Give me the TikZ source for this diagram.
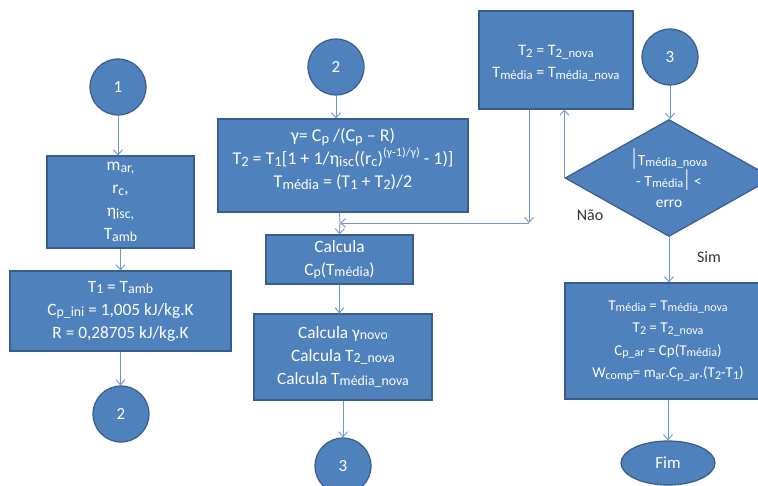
\documentclass[tikz,border=0pt]{standalone}
\usepackage{fontspec}
\usepackage{graphicx}
\setmainfont{Carlito}
\usetikzlibrary{shapes.geometric,arrows.meta}
\definecolor{boxfill}{HTML}{4F81BD}
\definecolor{boxline}{HTML}{385D8A}
\definecolor{linkblue}{HTML}{7096CC}
\definecolor{labelgray}{HTML}{333333}
\newcommand{\lo}[1]{\raisebox{-0.1em}{\scalebox{0.8}{#1}}}
\newcommand{\hi}[1]{\raisebox{0.45em}{\scalebox{0.68}{#1}}}
\tikzset{
  box/.style={draw=boxline, fill=boxfill, line width=1.2pt, text=white,
    align=center, inner sep=2pt, font=\fontsize{17.3}{23}\selectfont},
  txt/.style={text=white, align=center, inner sep=0pt, font=\fontsize{17.3}{23}\selectfont},
  circ/.style={circle, draw=boxline, fill=boxfill, line width=1.2pt, text=white,
    minimum size=56pt, inner sep=0pt, font=\fontsize{17}{20}\selectfont},
  dec/.style={diamond, draw=boxline, fill=boxfill, line width=1.2pt, text=white,
    align=center, inner sep=0pt, aspect=1.78, minimum width=208pt, minimum height=117pt,
    font=\fontsize{15.5}{21}\selectfont},
  term/.style={ellipse, draw=boxline, fill=boxfill, line width=1.2pt, text=white,
    minimum width=94pt, minimum height=44pt, inner sep=0pt, font=\fontsize{17}{20}\selectfont},
  arrowline/.style={draw=linkblue, line width=0.9pt, -{Straight Barb[length=5pt,width=9pt]}},
  plainline/.style={draw=linkblue, line width=0.9pt},
  lbl/.style={text=labelgray, font=\fontsize{16}{18}\selectfont}
}
\begin{document}
\begin{tikzpicture}[x=1pt,y=-1pt]
\useasboundingbox (0,0) rectangle (758,486);
\clip (0,0) rectangle (758,486);
\fill[white] (0,0) rectangle (758,486);

% left column
\node[circ] (c1) at (118,87) {1};
\node[box, minimum width=147pt, minimum height=92pt] (in1) at (120.5,202)
  {m\lo{ar,}\\ r\lo{c},\\ η\lo{isc,}\\ T\lo{amb}};
\node[box, minimum width=221pt, minimum height=80pt] (init) at (120.5,311)
  {T\lo{1} = T\lo{amb}\\ C\lo{p\_ini} = 1,005 kJ/kg.K\\ R = 0,28705 kJ/kg.K};
\node[circ] (c2a) at (121,414) {2};

% middle column
\node[circ] (c2b) at (336,67) {2};
\node[box, minimum width=250pt, minimum height=93pt] (eq) at (343,165.5) {};
\node[txt, font=\fontsize{18}{23}\selectfont] (eqtext) at ([yshift=6pt]eq.center)
  {γ= C\lo{p} /(C\lo{p} – R)\\
   T\lo{2} = T\lo{1}[1 + 1/η\lo{isc}((r\lo{c})\hi{(γ-1)/γ)} - 1)]\\
   T\lo{média} = (T\lo{1} + T\lo{2})/2};
\node[box, minimum width=147pt, minimum height=49pt] (cp) at (339.5,259.5)
  {Calcula\\ C\lo{p}(T\lo{média})};
\node[box, minimum width=178pt, minimum height=86pt] (calc) at (343,357)
  {Calcula γ\lo{novo}\\ Calcula T\lo{2\_nova}\\ Calcula T\lo{média\_nova}};
\node[circ] (c3a) at (343,466) {3};

% right part
\node[box, minimum width=154pt, minimum height=98pt, font=\fontsize{16}{22}\selectfont] (upd) at (556,60) {};
\node[txt, font=\fontsize{16}{22}\selectfont] (updtext) at ([yshift=-3pt]upd.center)
  {T\lo{2} = T\lo{2\_nova}\\ T\lo{média} = T\lo{média\_nova}};
\node[circ] (c3b) at (670,57) {3};
\node[dec] (dia) at (669,178)
  {\scalebox{1}[1.5]{|}T\lo{média\_nova}\\ - T\lo{média}\scalebox{1}[1.5]{|} <\\ erro};
\node[box, minimum width=206pt, minimum height=116pt, font=\fontsize{15}{22.5}\selectfont] (fin) at (668,341)
  {T\lo{média} = T\lo{média\_nova}\\ T\lo{2} = T\lo{2\_nova}\\
   C\lo{p\_ar} = Cp(T\lo{média})\\ W\lo{comp}= m\lo{ar}.C\lo{p\_ar}.(T\lo{2}-T\lo{1})};
\node[term] (fim) at (668,463) {Fim};

\node[lbl] (nao) at (590,215) {Não};
\node[lbl] (sim) at (709,257) {Sim};

\coordinate (turn) at (529,223);
\coordinate (merge) at (340,223);

% connectors
\draw[arrowline] (c1.south) -- (c1.south |- in1.north);
\draw[arrowline] (in1.south) -- (in1.south |- init.north);
\draw[arrowline] (init.south) -- (init.south |- c2a.north);
\draw[arrowline] (c2b.south) -- (c2b.south |- eq.north);
\draw[plainline] (cp |- eq.south) -- (merge);
\draw[arrowline] (merge) -- (cp.north);
\draw[arrowline] (cp.south) -- (cp.south |- calc.north);
\draw[arrowline] (calc.south) -- (calc.south |- c3a.north);
\draw[arrowline] (c3b.south) -- (c3b.south |- dia.north);
\draw[arrowline] (dia.west) -- (dia.west |- upd.south);
\draw[arrowline] (turn |- upd.south) -- (turn);
\draw[arrowline] (turn) -- (merge);
\draw[arrowline] (dia.south) -- (dia.south |- fin.north);
\draw[arrowline] (fin.south) -- (fin.south |- fim.north);
\end{tikzpicture}
\end{document}
